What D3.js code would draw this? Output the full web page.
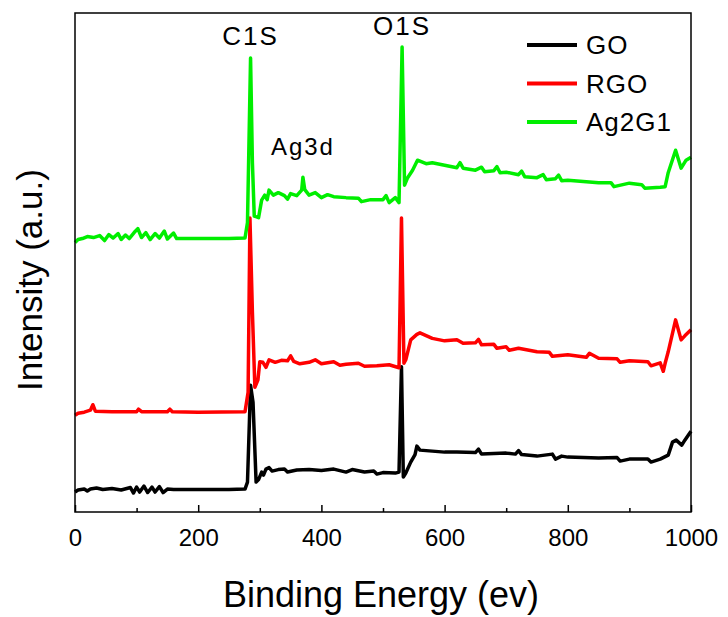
<!DOCTYPE html>
<html>
<head>
<meta charset="utf-8">
<script src="https://cdn.jsdelivr.net/npm/d3@7"></script>
<style>
  body { margin: 0; background: #fff; }
  svg { font-family: "Liberation Sans", Arial, sans-serif; }
</style>
</head>
<body>
<svg id="chart" width="728" height="617"></svg>
<script>
// XPS survey, binding energy (eV) vs intensity (a.u., arbitrary 0-100)
const goData = [
  [0, 4.0], [5, 4.4], [15, 4.6], [20, 4.2], [25, 4.6], [35, 4.8], [45, 4.5], [60, 4.7], [75, 4.4],
  [90, 4.9], [95, 3.8], [100, 5.0], [105, 4.0], [112, 5.2], [118, 3.9], [125, 5.0], [130, 4.0],
  [137, 5.1], [143, 3.9], [150, 4.6], [160, 4.5], [200, 4.5], [250, 4.5], [276, 4.6],
  [280, 6.0], [285, 25.4], [289, 22.0], [294, 6.0], [298, 6.5], [303, 8.0], [306, 7.4], [310, 8.6],
  [315, 8.9], [320, 8.2], [330, 8.5], [340, 8.6], [345, 8.0], [360, 8.4], [380, 8.5], [400, 8.3],
  [420, 8.6], [440, 8.0], [450, 8.5], [470, 8.0], [485, 8.2], [490, 7.6], [500, 7.9], [520, 7.8],
  [526, 8.0], [530, 29.1], [533, 7.0], [537, 7.8], [545, 10.0], [552, 11.5], [555, 13.2],
  [560, 12.4], [580, 12.2], [600, 12.0], [620, 12.0], [650, 11.9], [655, 12.6], [660, 11.6],
  [700, 11.8], [715, 11.6], [720, 12.3], [725, 11.5], [750, 11.2], [775, 11.6], [780, 10.6],
  [790, 11.2], [800, 11.0], [850, 10.8], [880, 10.9], [885, 10.2], [900, 10.6], [930, 10.6],
  [935, 10.0], [950, 10.6], [963, 11.4], [970, 14.0], [976, 14.4], [985, 13.4], [990, 14.4],
  [1000, 16.2]
];

const rgoData = [
  [0, 19.4], [5, 19.8], [15, 20.0], [25, 20.4], [29, 21.5], [33, 20.2], [60, 20.1],
  [100, 20.1], [103, 20.6], [108, 20.1], [150, 20.1], [154, 20.6], [158, 20.1], [200, 20.0],
  [276, 20.1], [281, 24.0], [284, 58.9], [288, 40.0], [292, 25.0], [297, 26.5], [300, 30.1],
  [305, 30.0], [310, 29.0], [315, 30.5], [325, 30.0], [335, 30.4], [345, 30.3], [350, 31.3],
  [355, 30.2], [365, 29.7], [380, 30.0], [390, 30.5], [400, 29.7], [420, 30.1], [430, 29.4],
  [440, 29.6], [460, 29.8], [470, 29.2], [490, 29.3], [510, 29.5], [526, 28.9], [530, 58.9],
  [534, 29.8], [537, 30.5], [545, 34.5], [555, 35.6], [560, 35.9], [580, 34.8], [600, 34.3],
  [620, 34.5], [630, 33.8], [650, 33.9], [655, 34.6], [660, 33.5], [680, 33.6], [685, 32.8],
  [700, 33.1], [705, 32.4], [720, 32.8], [750, 32.1], [770, 32.0], [775, 31.2], [800, 31.5],
  [830, 31.0], [835, 31.8], [850, 30.8], [880, 30.7], [885, 30.0], [900, 30.3], [930, 30.1],
  [935, 29.3], [950, 29.9], [955, 28.2], [958, 29.8], [963, 32.1], [975, 38.5], [984, 34.5],
  [990, 35.3], [1000, 36.5]
];

const ag2g1Data = [
  [0, 54.0], [5, 54.6], [12, 54.8], [20, 55.2], [30, 55.0], [40, 55.4], [48, 54.4],
  [55, 55.6], [62, 54.9], [70, 55.8], [75, 54.6], [82, 55.5], [88, 54.8], [96, 56.0],
  [102, 56.8], [108, 55.0], [115, 56.0], [122, 54.6], [130, 55.8], [137, 54.9], [145, 56.3],
  [150, 54.7], [160, 55.9], [165, 54.8], [180, 54.8], [250, 54.8], [276, 54.9], [280, 58.0],
  [285, 91.0], [288, 70.0], [291, 59.3], [298, 59.0], [303, 62.5], [308, 63.5], [312, 62.6],
  [315, 64.5], [322, 63.5], [330, 64.0], [340, 63.4], [345, 62.7], [350, 63.8], [360, 63.4],
  [368, 64.5], [370, 67.1], [373, 64.6], [380, 63.5], [390, 64.0], [400, 63.0], [410, 63.6],
  [420, 63.2], [440, 63.0], [460, 62.9], [465, 62.2], [480, 62.6], [500, 62.6], [505, 63.4],
  [510, 62.0], [520, 63.0], [526, 62.0], [531, 93.2], [535, 65.5], [540, 67.0], [548, 68.5],
  [556, 70.5], [570, 69.8], [580, 70.0], [600, 69.5], [620, 69.0], [625, 70.0], [630, 68.9],
  [650, 68.5], [660, 69.1], [665, 68.2], [680, 68.4], [685, 69.2], [690, 68.0], [700, 68.1],
  [720, 67.6], [725, 68.3], [730, 67.2], [750, 67.0], [760, 67.6], [765, 66.6], [780, 66.8],
  [785, 67.5], [790, 66.4], [800, 66.5], [850, 66.0], [870, 66.0], [875, 65.2], [900, 65.9],
  [920, 65.6], [925, 64.9], [950, 65.1], [958, 65.2], [963, 68.0], [975, 72.5], [984, 68.9],
  [992, 70.5], [1000, 71.1]
];

const seriesNames = ['GO', 'RGO', 'Ag2G1'];
const seriesColors = ['#000000', '#ff0000', '#00ee00'];
const xTicks = [0, 200, 400, 600, 800, 1000];
const xMinorTicks = [100, 300, 500, 700, 900];
const peakLabels = [
  { text: 'C1S', x: 285, y: 92 },
  { text: 'O1S', x: 531, y: 94 },
  { text: 'Ag3d', x: 370, y: 70 }
];

const margin = { top: 13, right: 37, bottom: 105, left: 75 };
const width = 728 - margin.left - margin.right;
const height = 617 - margin.top - margin.bottom;

const svg = d3.select('#chart');
const g = svg.append('g').attr('transform', 'translate(' + margin.left + ',' + margin.top + ')');

const x = d3.scaleLinear().domain([0, 1000]).range([0, width]);
const y = d3.scaleLinear().domain([0, 100]).range([height, 0]);

// curves
const line = d3.line()
  .x(function (d) { return x(d[0]) })
  .y(function (d) { return y(d[1]) });

[goData, rgoData, ag2g1Data].forEach(function (data, i) {
  g.append('path')
    .datum(data)
    .attr('fill', 'none')
    .attr('stroke', seriesColors[i])
    .attr('stroke-width', 3.5)
    .attr('stroke-linejoin', 'round')
    .attr('d', line);
});

// frame
g.append('rect')
  .attr('width', width).attr('height', height)
  .attr('fill', 'none').attr('stroke', '#000').attr('stroke-width', 1.5);

// bottom axis, ticks inward
const xAxis = g.append('g')
  .attr('transform', 'translate(0,' + height + ')')
  .call(d3.axisBottom(x).tickValues(xTicks).tickSize(-7).tickPadding(17)
    .tickFormat(d3.format('d')).tickSizeOuter(0));
xAxis.select('.domain').remove();
xAxis.selectAll('line').attr('stroke-width', 1.5);
xAxis.selectAll('text')
  .attr('font-size', 24).attr('fill', '#000')
  .attr('font-family', '"Liberation Sans", Arial, sans-serif');

const xMinor = g.append('g')
  .attr('transform', 'translate(0,' + height + ')')
  .call(d3.axisBottom(x).tickValues(xMinorTicks).tickSize(-4).tickFormat('').tickSizeOuter(0));
xMinor.select('.domain').remove();
xMinor.selectAll('line').attr('stroke-width', 1.5);

// axis titles
svg.append('text')
  .attr('x', 381).attr('y', 607)
  .attr('text-anchor', 'middle')
  .attr('font-size', 36)
  .text('Binding Energy (ev)');

svg.append('text')
  .attr('transform', 'translate(42,280) rotate(-90)')
  .attr('text-anchor', 'middle')
  .attr('font-size', 35)
  .text('Intensity (a.u.)');

// peak labels
peakLabels.forEach(function (p) {
  g.append('text')
    .attr('x', x(p.x)).attr('y', y(p.y) - 8)
    .attr('text-anchor', 'middle')
    .attr('font-size', p.text === 'Ag3d' ? 24 : 26)
    .attr('letter-spacing', 2)
    .text(p.text);
});

// legend
const legend = g.append('g').attr('transform', 'translate(452,32)');
seriesNames.forEach(function (name, i) {
  const row = legend.append('g').attr('transform', 'translate(0,' + (i * 38.5) + ')');
  row.append('line')
    .attr('x1', 0).attr('x2', 50)
    .attr('stroke', seriesColors[i]).attr('stroke-width', 4);
  row.append('text')
    .attr('x', 59).attr('y', 9)
    .attr('font-size', 26)
    .attr('letter-spacing', 1)
    .text(name);
});
</script>
</body>
</html>
